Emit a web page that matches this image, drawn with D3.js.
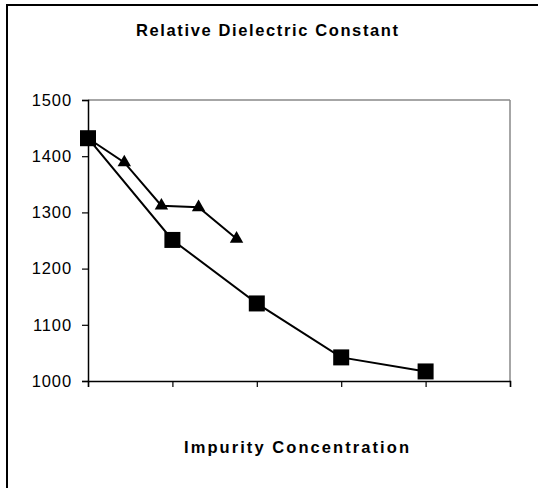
<!DOCTYPE html>
<html>
<head>
<meta charset="utf-8">
<script src="https://cdn.jsdelivr.net/npm/d3@7"></script>
<style>
  html, body { margin: 0; padding: 0; background: #fff; }
  svg { display: block; }
  text { font-family: "Liberation Sans", Arial, sans-serif; fill: #000; }
</style>
</head>
<body>
<svg id="chart" width="538" height="488"></svg>
<script>
// ---- data ----
const squareX = [0, 1, 2, 3, 4];
const squareY = [1432, 1251, 1138, 1042, 1017];
const triX = [0, 0.43, 0.87, 1.31, 1.76];
const triY = [1432, 1389, 1312, 1309, 1253];
const yTicks = [1000, 1100, 1200, 1300, 1400, 1500];
const xTicks = [0, 1, 2, 3, 4, 5];
const titleText = "Relative Dielectric Constant";
const xLabelText = "Impurity Concentration";

(function () {
const svg = d3.select("#chart");
const mL = 88, mR = 510, mT = 100, mB = 381;

// outer chart border (right/bottom fall outside the view)
svg.append("rect").attr("x", 7).attr("y", 5).attr("width", 545).attr("height", 500)
  .attr("fill", "#fff").attr("stroke", "#000").attr("stroke-width", 2);

const x = d3.scaleLinear().domain([0, 5]).range([mL, mR]);
const y = d3.scaleLinear().domain([1000, 1500]).range([mB, mT]);

// plot frame: top and right grey
svg.append("line").attr("x1", mL).attr("x2", mR).attr("y1", mT).attr("y2", mT)
  .attr("stroke", "#888").attr("stroke-width", 1.5);
svg.append("line").attr("x1", mR).attr("x2", mR).attr("y1", mT).attr("y2", mB)
  .attr("stroke", "#888").attr("stroke-width", 1.5);

// axes
const yAxis = d3.axisLeft(y).tickValues(yTicks).tickSize(6).tickPadding(10).tickFormat(d3.format("d"));
const gy = svg.append("g").attr("transform", `translate(${mL},0)`).call(yAxis);
gy.select(".domain").attr("stroke", "#000").attr("stroke-width", 1.5);
gy.selectAll(".tick line").attr("stroke", "#000").attr("stroke-width", 1.2);
gy.selectAll(".tick text").attr("font-size", "16.5px").style("letter-spacing", "0.9px")
  .attr("font-family", "Liberation Sans, Arial, sans-serif").attr("fill", "#000");

const xAxis = d3.axisBottom(x).tickValues(xTicks).tickSize(6).tickFormat("");
const gx = svg.append("g").attr("transform", `translate(0,${mB})`).call(xAxis);
gx.select(".domain").attr("stroke", "#000").attr("stroke-width", 1.5);
gx.selectAll(".tick line").attr("stroke", "#000").attr("stroke-width", 1.2);

// lines
const line = d3.line().x(d => x(d[0])).y(d => y(d[1]));
const triPts = triX.map((v, i) => [v, triY[i]]);
const sqPts = squareX.map((v, i) => [v, squareY[i]]);

svg.append("path").datum(triPts).attr("d", line).attr("fill", "none")
  .attr("stroke", "#000").attr("stroke-width", 2);
svg.append("path").datum(sqPts).attr("d", line).attr("fill", "none")
  .attr("stroke", "#000").attr("stroke-width", 2);

// triangle markers
const triSym = d3.symbol().type(d3.symbolTriangle).size(78);
svg.selectAll(".tri").data(triPts).enter().append("path")
  .attr("class", "tri")
  .attr("d", triSym)
  .attr("transform", d => `translate(${x(d[0])},${y(d[1])})`)
  .attr("fill", "#000");

// square markers
const sq = 16;
svg.selectAll(".sq").data(sqPts).enter().append("rect")
  .attr("class", "sq")
  .attr("x", d => x(d[0]) - sq / 2)
  .attr("y", d => y(d[1]) - sq / 2)
  .attr("width", sq).attr("height", sq)
  .attr("fill", "#000");

// titles
svg.append("text").attr("x", 136).attr("y", 36)
  .attr("font-size", "16.5px").attr("font-weight", "bold")
  .attr("textLength", 262).attr("lengthAdjust", "spacing")
  .text(titleText);

svg.append("text").attr("x", 184).attr("y", 453)
  .attr("font-size", "16.5px").attr("font-weight", "bold")
  .attr("textLength", 225).attr("lengthAdjust", "spacing")
  .text(xLabelText);
})();
</script>
</body>
</html>
